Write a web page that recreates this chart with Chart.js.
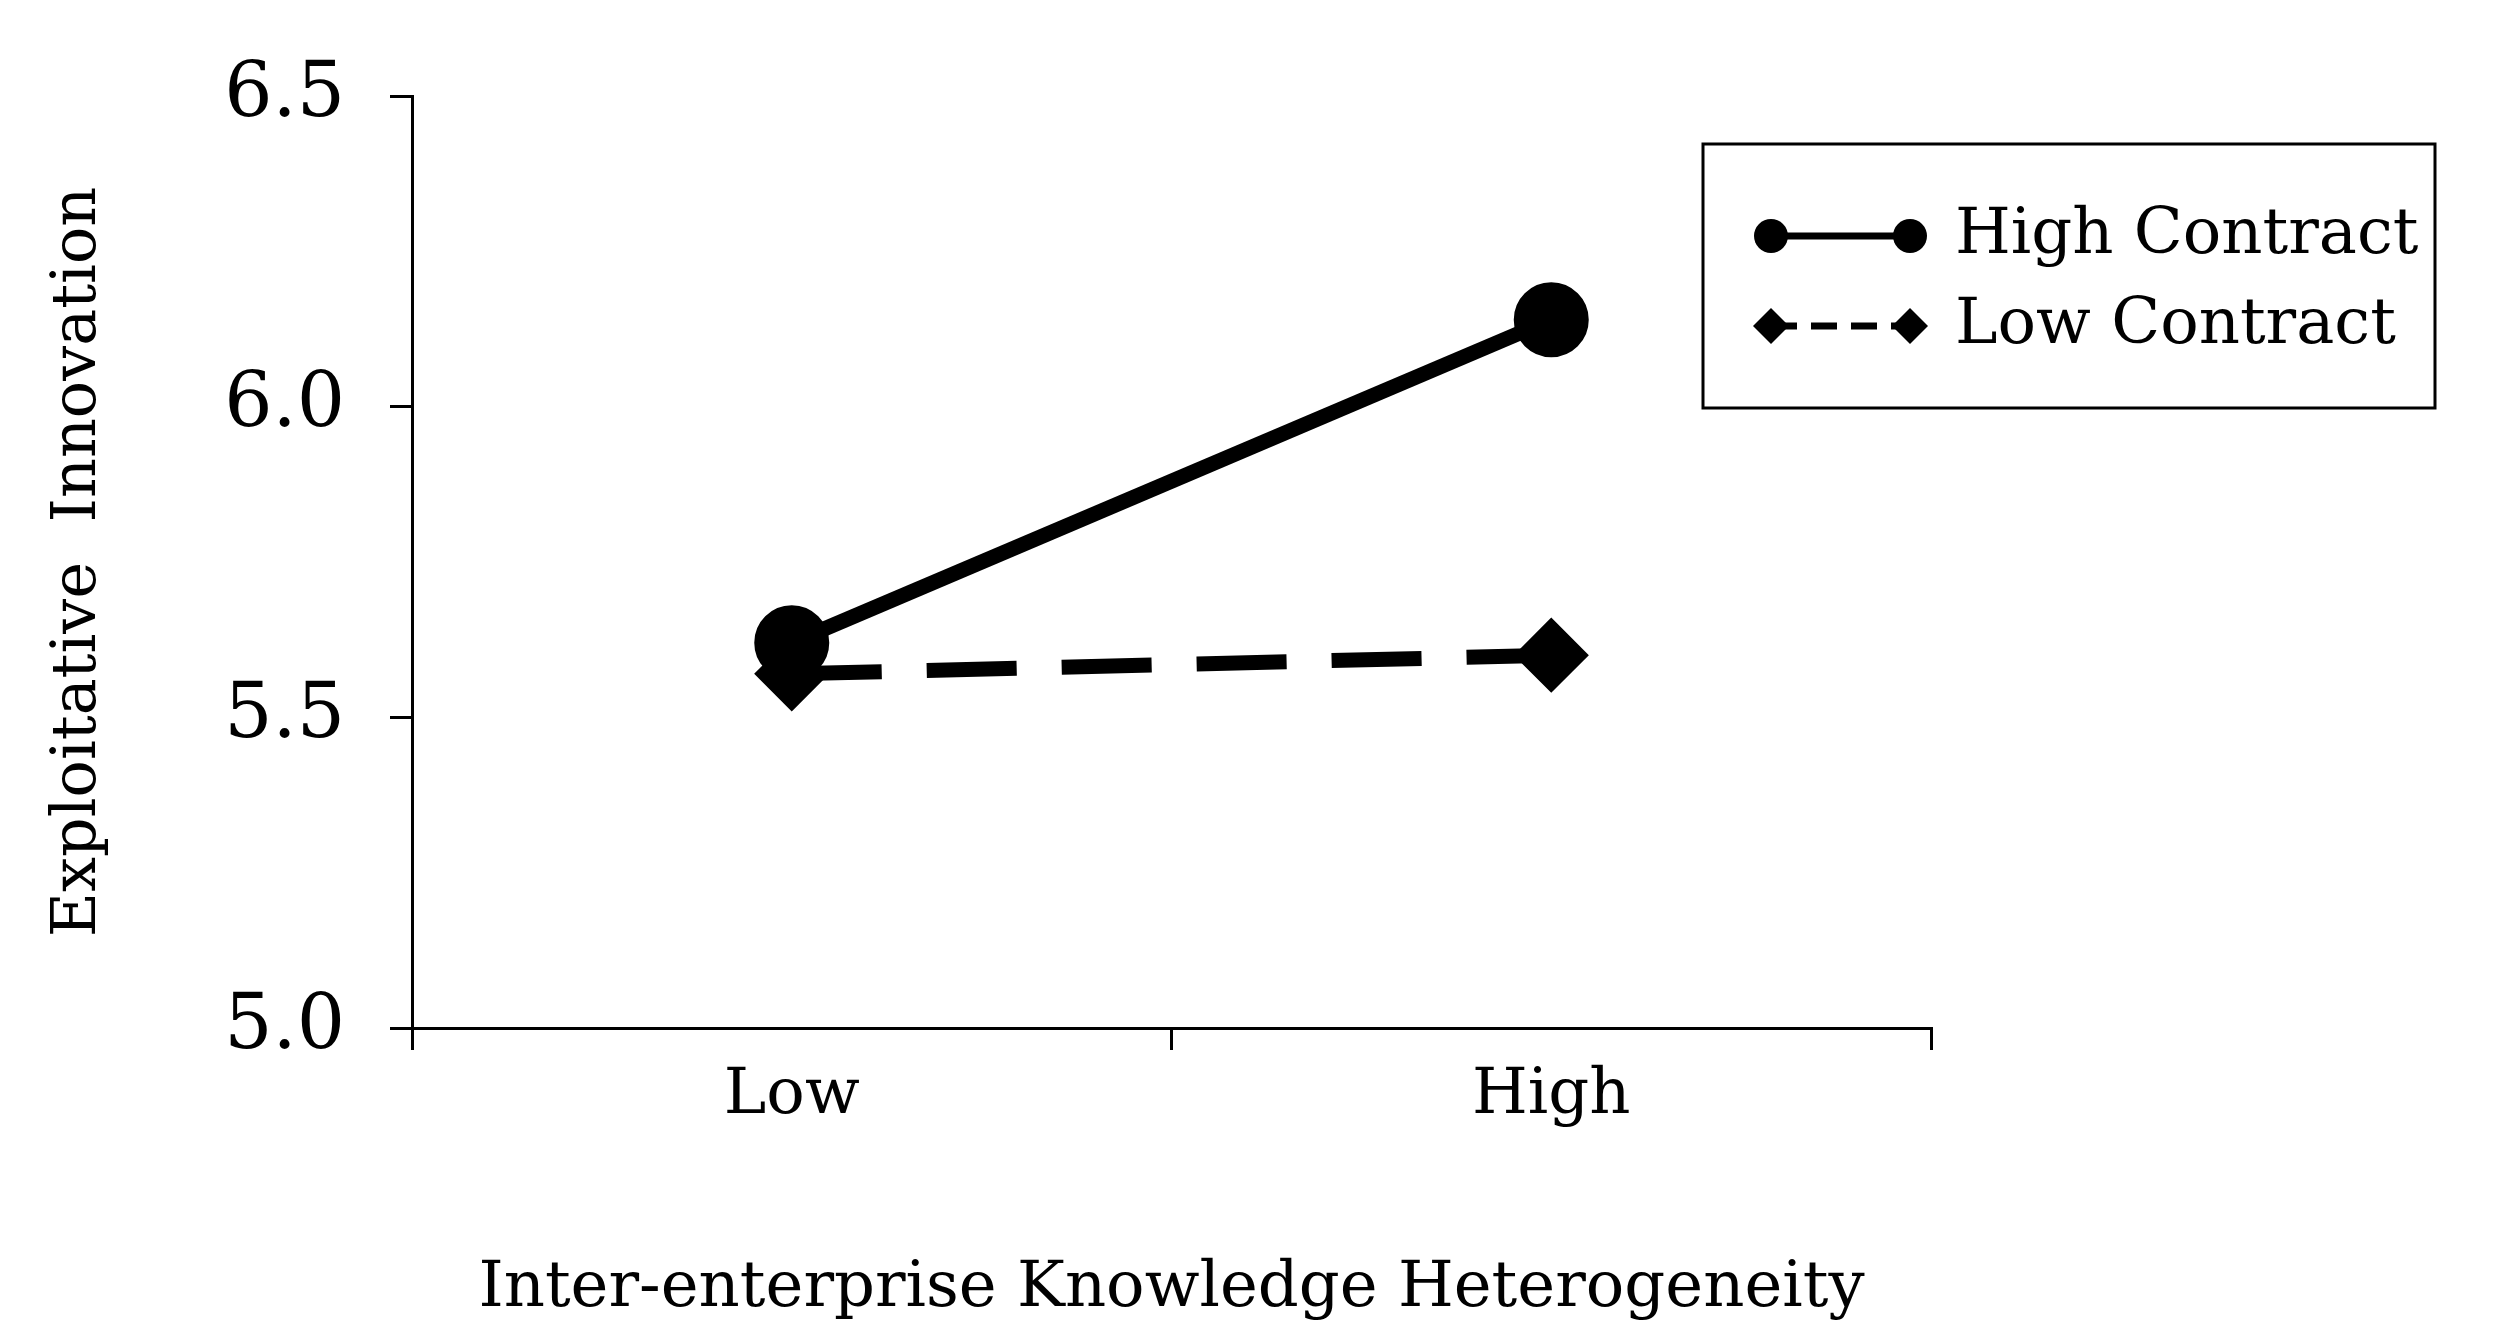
<!DOCTYPE html>
<html><head><meta charset="utf-8">
<script src="https://cdn.jsdelivr.net/npm/chart.js@4"></script>
<style>html,body{margin:0;background:#fff}#wrap{width:2502px;height:1332px}</style>
</head><body><div id="wrap"><canvas id="c" width="2502" height="1332"></canvas></div>
<script>
const categories = ['Low', 'High'];
const highContract = [5.62, 6.14];
const lowContract = [5.57, 5.60];
const seriesNames = ['High Contract', 'Low Contract'];
const yTicks = [5.0, 5.5, 6.0, 6.5];

const serif = '"DejaVu Serif", "Liberation Serif", serif';

// legend box drawn on the canvas, top right
const boxLegend = {
  id: 'boxLegend',
  afterDraw(chart) {
    const ctx = chart.ctx;
    ctx.save();
    ctx.strokeStyle = '#000';
    ctx.lineWidth = 3;
    ctx.strokeRect(1703, 144, 732, 264);
    const rows = [236, 326];
    rows.forEach((y, i) => {
      ctx.lineWidth = 7;
      ctx.setLineDash(i === 0 ? [] : [26, 14]);
      ctx.beginPath(); ctx.moveTo(1771, y); ctx.lineTo(1910, y); ctx.stroke();
      ctx.setLineDash([]);
      ctx.fillStyle = '#000';
      [1771, 1910].forEach(x => {
        ctx.beginPath();
        if (i === 0) ctx.arc(x, y, 17, 0, Math.PI * 2);
        else { ctx.moveTo(x, y - 18); ctx.lineTo(x + 18, y); ctx.lineTo(x, y + 18); ctx.lineTo(x - 18, y); ctx.closePath(); }
        ctx.fill();
      });
      ctx.font = '64px ' + serif;
      ctx.textBaseline = 'middle';
      ctx.fillText(seriesNames[i], 1955, y);
    });
    ctx.restore();
  }
};

new Chart(document.getElementById('c'), {
  type: 'line',
  data: {
    labels: categories,
    datasets: [
      { label: seriesNames[0], data: highContract, borderColor: '#000', backgroundColor: '#000',
        borderWidth: 15, pointStyle: 'circle', pointRadius: 30, pointHoverRadius: 30 },
      { label: seriesNames[1], data: lowContract, borderColor: '#000', backgroundColor: '#000',
        borderWidth: 15, borderDash: [90, 45], pointStyle: 'rectRot', pointRadius: 27, pointHoverRadius: 27 }
    ]
  },
  options: {
    responsive: false,
    animation: false,
    layout: { padding: { top: 96, right: 571, left: 38, bottom: 0 } },
    plugins: { legend: { display: false }, tooltip: { enabled: false } },
    scales: {
      x: {
        offset: true,
        afterFit(s) { s.height = 304; },
        grid: { offset: true, drawOnChartArea: false, color: '#000', tickLength: 22, lineWidth: 3 },
        border: { color: '#000', width: 3 },
        ticks: { color: '#000', font: { family: serif, size: 64 }, padding: 8 },
        title: { display: true, text: 'Inter-enterprise Knowledge Heterogeneity', color: '#000',
                 font: { family: serif, size: 64 }, padding: { top: 30 } }
      },
      y: {
        min: 5.0, max: 6.5,
        afterFit(s) { s.width = 374; },
        afterBuildTicks(s) { s.ticks = yTicks.map(v => ({ value: v })); },
        grid: { drawOnChartArea: false, color: '#000', tickLength: 22, lineWidth: 3 },
        border: { color: '#000', width: 3 },
        ticks: { color: '#000', font: { family: serif, size: 76 }, padding: 45,
                 callback: v => Number(v).toFixed(1) },
        title: { display: true, text: 'Exploitative  Innovation', color: '#000',
                 font: { family: serif, size: 62 }, padding: { bottom: 20 } }
      }
    }
  },
  plugins: [boxLegend]
});
</script>
</body></html>
